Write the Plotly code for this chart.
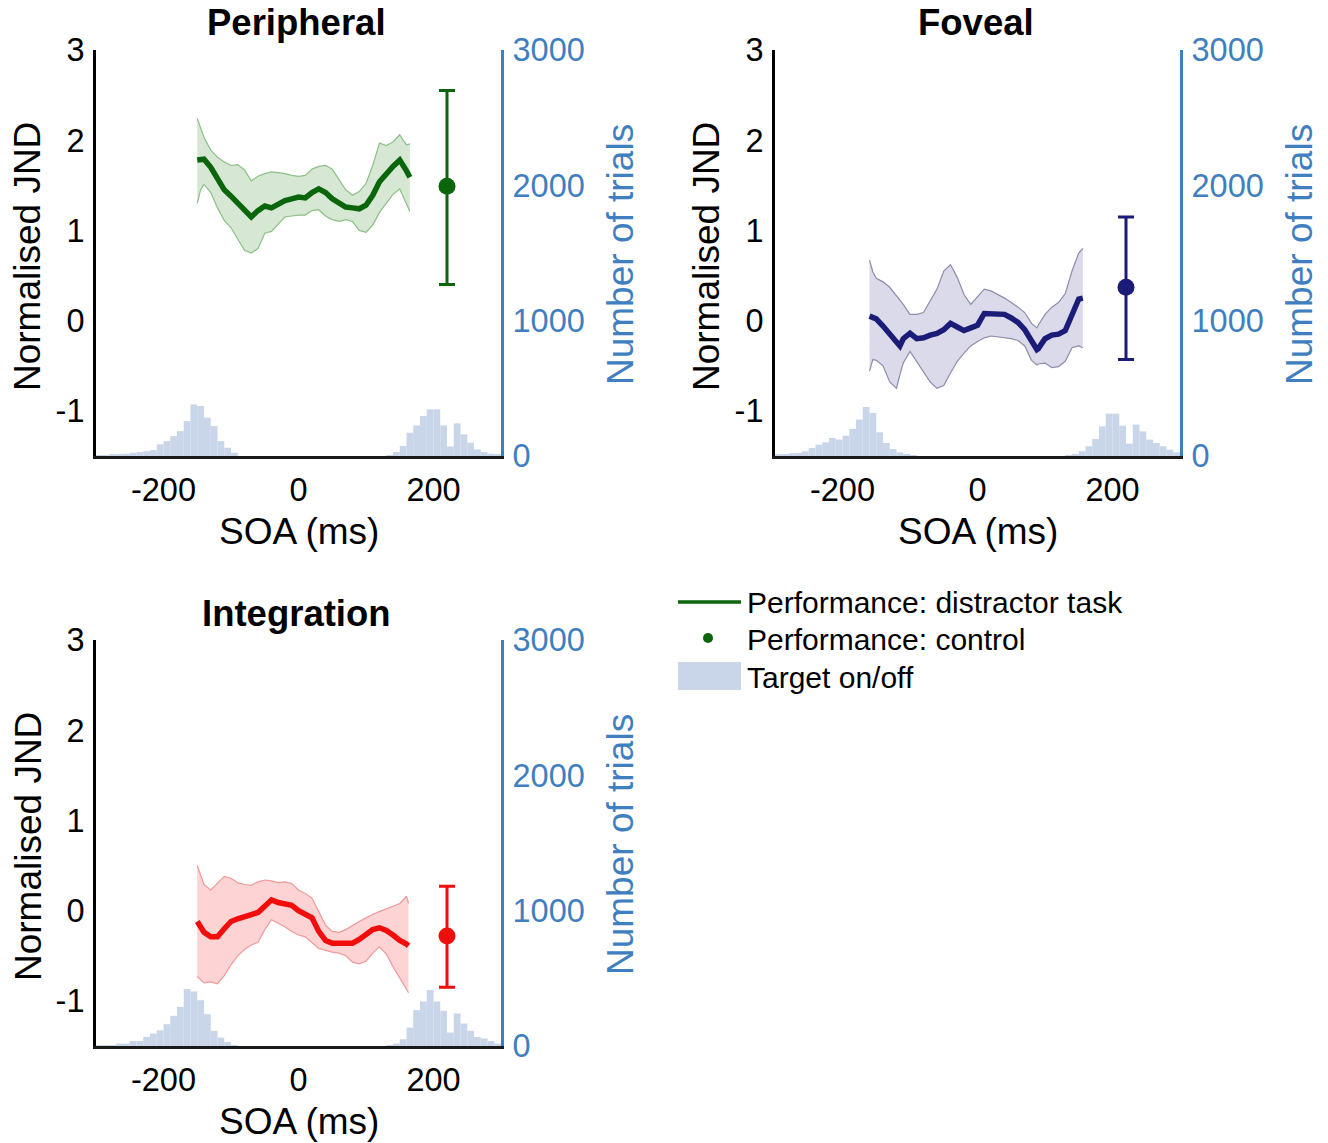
import plotly.graph_objects as go

W, H = 1328, 1143

# ---------------- data ----------------
# Peripheral
per_soa = [-150, -145, -140, -130, -120, -110, -100, -90, -80, -70, -60, -50, -40, -30, -20, -10, 0,
           10, 20, 30, 40, 50, 60, 70, 80, 90, 100, 110, 120, 130, 140, 150, 155, 160, 165]
per_mean = [1.78, 1.79, 1.79, 1.70, 1.56, 1.45, 1.38, 1.31, 1.22, 1.15, 1.22, 1.27, 1.25, 1.29, 1.33, 1.35, 1.37,
            1.36, 1.42, 1.46, 1.42, 1.35, 1.30, 1.26, 1.25, 1.24, 1.28, 1.39, 1.54, 1.63, 1.71, 1.78, 1.73, 1.66, 1.59]
per_upper = [2.24, 2.14, 2.03, 1.89, 1.81, 1.76, 1.72, 1.73, 1.67, 1.55, 1.60, 1.63, 1.65, 1.64, 1.63, 1.61, 1.60,
             1.61, 1.68, 1.71, 1.72, 1.68, 1.57, 1.45, 1.39, 1.43, 1.52, 1.72, 1.97, 1.94, 1.98, 2.06, 2.00, 1.95, 1.96]
per_lower = [1.30, 1.45, 1.51, 1.42, 1.25, 1.11, 1.03, 0.91, 0.78, 0.75, 0.80, 0.97, 0.99, 1.07, 1.15, 1.16, 1.17,
             1.17, 1.22, 1.23, 1.16, 1.12, 1.10, 1.12, 1.10, 1.00, 0.98, 1.06, 1.20, 1.30, 1.40, 1.46, 1.38, 1.30, 1.21]

# Foveal
fov_soa = [-160, -155, -150, -140, -130, -120, -115, -110, -100, -90, -80, -70, -60, -50, -40, -30, -20, -10, 0,
           10, 20, 30, 40, 50, 60, 70, 80, 88, 90, 100, 110, 120, 130, 140, 150, 156]
fov_mean = [0.05, 0.04, 0.02, -0.06, -0.15, -0.24, -0.28, -0.20, -0.14, -0.20, -0.19, -0.16, -0.14, -0.10, -0.03,
            -0.07, -0.11, -0.08, -0.05, 0.08, 0.08, 0.07, 0.07, 0.03, -0.02, -0.10, -0.21, -0.32, -0.31, -0.20,
            -0.16, -0.15, -0.11, 0.05, 0.24, 0.25]
fov_upper = [0.67, 0.54, 0.47, 0.43, 0.37, 0.28, 0.23, 0.18, 0.07, 0.07, 0.09, 0.22, 0.35, 0.55, 0.62, 0.48, 0.29,
             0.18, 0.27, 0.35, 0.33, 0.29, 0.25, 0.20, 0.15, 0.09, -0.03, -0.08, -0.05, 0.07, 0.15, 0.20, 0.30,
             0.55, 0.75, 0.80]
fov_lower = [-0.56, -0.43, -0.44, -0.50, -0.68, -0.75, -0.60, -0.47, -0.34, -0.45, -0.57, -0.68, -0.75, -0.72,
             -0.58, -0.45, -0.36, -0.28, -0.23, -0.19, -0.17, -0.18, -0.19, -0.20, -0.22, -0.28, -0.44, -0.49,
             -0.48, -0.47, -0.52, -0.51, -0.45, -0.30, -0.28, -0.30]

# Integration
int_soa = [-150, -145, -140, -130, -120, -110, -100, -90, -80, -70, -60, -50, -40, -30, -20, -10, 0,
           10, 20, 30, 40, 50, 60, 70, 80, 90, 100, 110, 120, 130, 140, 150, 160, 163]
int_mean = [-0.12, -0.19, -0.24, -0.29, -0.29, -0.20, -0.12, -0.09, -0.07, -0.05, -0.02, 0.05, 0.12, 0.09, 0.08,
            0.06, 0.00, -0.04, -0.08, -0.23, -0.33, -0.36, -0.36, -0.36, -0.36, -0.32, -0.26, -0.21, -0.19,
            -0.22, -0.27, -0.33, -0.37, -0.39]
int_upper = [0.50, 0.39, 0.29, 0.23, 0.30, 0.38, 0.36, 0.31, 0.29, 0.28, 0.32, 0.34, 0.33, 0.31, 0.32, 0.30, 0.23,
             0.19, 0.14, -0.01, -0.16, -0.23, -0.24, -0.21, -0.16, -0.12, -0.08, -0.04, -0.01, 0.02, 0.05, 0.08,
             0.16, 0.08]
int_lower = [-0.73, -0.77, -0.80, -0.79, -0.81, -0.72, -0.60, -0.50, -0.43, -0.38, -0.35, -0.21, -0.10, -0.14,
             -0.18, -0.23, -0.27, -0.29, -0.36, -0.42, -0.44, -0.46, -0.47, -0.50, -0.57, -0.59, -0.56, -0.47,
             -0.40, -0.48, -0.62, -0.75, -0.87, -0.91]

# Control condition (SOA position, mean, upper, lower)
ctrl_soa = 220
per_ctrl = [1.49, 2.55, 0.40]
fov_ctrl = [0.37, 1.15, -0.43]
int_ctrl = [-0.28, 0.27, -0.85]

# Histogram of target on/off (10 ms bins, left edges)
hist_left_edges = [-300, -290, -280, -270, -260, -250, -240, -230, -220, -210, -200,
                   -190, -180, -170, -160, -150, -140, -130, -120, -110, -100]
hist_right_edges = [130, 140, 150, 160, 170, 180, 190, 200, 210, 220, 230, 240, 250, 260, 270, 280, 290]
per_hist_left = [3, 6, 12, 14, 17, 24, 29, 35, 44, 86, 110, 147, 184, 258, 381, 369, 283, 221, 110, 61, 24]
per_hist_right = [5, 29, 74, 172, 226, 295, 345, 345, 226, 70, 241, 160, 98, 49, 29, 17, 10]
fov_hist_left = [8, 10, 20, 22, 35, 59, 84, 101, 133, 121, 150, 200, 269, 362, 318, 175, 96, 52, 27, 15, 5]
fov_hist_right = [5, 15, 35, 72, 126, 219, 313, 313, 224, 91, 232, 182, 121, 96, 72, 47, 27]
int_hist_left = [3, 3, 5, 18, 18, 37, 37, 67, 92, 116, 161, 223, 289, 420, 403, 338, 235, 112, 62, 30, 5]
int_hist_right = [5, 18, 50, 136, 265, 329, 413, 329, 260, 99, 240, 166, 112, 67, 55, 37, 18]

x_tickvals = [-200, 0, 200]
x_ticktext = ["-200", "0", "200"]
jnd_tickvals = [-1, 0, 1, 2, 3]
jnd_ticktext = ["-1", "0", "1", "2", "3"]
trial_tickvals = [0, 1000, 2000, 3000]
trial_ticktext = ["0", "1000", "2000", "3000"]

titles = ["Peripheral", "Foveal", "Integration"]
legend_labels = ["Performance: distractor task", "Performance: control", "Target on/off"]

# ---------------- styles ----------------
FONT = "Liberation Sans, Arial, Helvetica, sans-serif"
HIST_COLOR = "#c9d5e9"
AXIS_BLUE = "#3f7fc0"
panels = [
    dict(soa=per_soa, mean=per_mean, up=per_upper, lo=per_lower, ctrl=per_ctrl,
         hl=per_hist_left, hr=per_hist_right, line="#0b650b", fill="#d6e8d3", edge="#8cbf88",
         xa="x", ya_tr="y", ya_j="y2"),
    dict(soa=fov_soa, mean=fov_mean, up=fov_upper, lo=fov_lower, ctrl=fov_ctrl,
         hl=fov_hist_left, hr=fov_hist_right, line="#1b1b78", fill="#dadaea", edge="#8d8dab",
         xa="x2", ya_tr="y3", ya_j="y4"),
    dict(soa=int_soa, mean=int_mean, up=int_upper, lo=int_lower, ctrl=int_ctrl,
         hl=int_hist_left, hr=int_hist_right, line="#f20d0d", fill="#fdd3d3", edge="#ef9a9a",
         xa="x3", ya_tr="y5", ya_j="y6"),
]

# pixel boxes of each panel: (left, right, top, bottom)
boxes = [(96, 501, 50, 456), (775, 1180, 50, 456), (96, 501, 640, 1046)]


def px(xp):
    return xp / W


def py(yp):
    return 1 - yp / H


fig = go.Figure()

for p in panels:
    # histogram on the trials axis
    fig.add_trace(go.Bar(x=hist_left_edges + hist_right_edges, y=p["hl"] + p["hr"],
                         width=10, offset=0, marker=dict(color=HIST_COLOR, line=dict(width=0)),
                         xaxis=p["xa"], yaxis=p["ya_tr"], showlegend=False, hoverinfo="skip"))
    # confidence band
    fig.add_trace(go.Scatter(x=p["soa"] + p["soa"][::-1], y=p["up"] + p["lo"][::-1],
                             fill="toself", fillcolor=p["fill"], line=dict(width=0),
                             mode="lines", xaxis=p["xa"], yaxis=p["ya_j"], showlegend=False,
                             hoverinfo="skip"))
    for edge in (p["up"], p["lo"]):
        fig.add_trace(go.Scatter(x=p["soa"], y=edge, mode="lines",
                                 line=dict(color=p["edge"], width=1.2),
                                 xaxis=p["xa"], yaxis=p["ya_j"], showlegend=False))
    fig.add_trace(go.Scatter(x=p["soa"], y=p["mean"], mode="lines",
                             line=dict(color=p["line"], width=5.5),
                             xaxis=p["xa"], yaxis=p["ya_j"], showlegend=False))
    m, u, l = p["ctrl"]
    fig.add_trace(go.Scatter(x=[ctrl_soa], y=[m], mode="markers",
                             marker=dict(color=p["line"], size=17),
                             error_y=dict(type="data", symmetric=False, array=[u - m], arrayminus=[m - l],
                                          color=p["line"], thickness=3, width=8),
                             xaxis=p["xa"], yaxis=p["ya_j"], showlegend=False))

layout = dict(
    width=W, height=H, margin=dict(l=0, r=0, t=0, b=0, pad=0, autoexpand=False),
    paper_bgcolor="white", plot_bgcolor="rgba(0,0,0,0)",
    font=dict(family=FONT, color="black"),
    showlegend=False, barmode="overlay",
)

tick_font = dict(family=FONT, size=32.5)
axis_names = [("xaxis", "yaxis", "yaxis2", "x", "y"), ("xaxis2", "yaxis3", "yaxis4", "x2", "y3"),
              ("xaxis3", "yaxis5", "yaxis6", "x3", "y5")]
for (xn, ytr, yj, xref, ytrref), (l, r, t, b) in zip(axis_names, boxes):
    layout[xn] = dict(domain=[px(l), px(r)], range=[-300, 300], anchor=ytrref, automargin=False,
                      tickvals=x_tickvals, ticktext=x_ticktext, ticks="", ticklabelstandoff=3,
                      showline=True, linecolor="#1a1a1a", linewidth=3, showgrid=False, zeroline=False,
                      tickfont=dict(tick_font, color="black"), fixedrange=True)
    layout[ytr] = dict(domain=[py(b), py(t)], range=[0, 3000], anchor=xref, side="right", automargin=False,
                       tickvals=trial_tickvals, ticktext=trial_ticktext, ticks="", ticklabelstandoff=2,
                       showline=True, linecolor=AXIS_BLUE, linewidth=3, showgrid=False, zeroline=False,
                       tickfont=dict(tick_font, color=AXIS_BLUE), fixedrange=True)
    layout[yj] = dict(range=[-1.5, 3], anchor=xref, overlaying=ytrref, side="left", automargin=False,
                      tickvals=jnd_tickvals, ticktext=jnd_ticktext, ticks="", ticklabelstandoff=2,
                      showline=True, linecolor="black", linewidth=3, showgrid=False, zeroline=False,
                      tickfont=dict(tick_font, color="black"), fixedrange=True)

fig.update_layout(**layout)

annotations = []
title_font = dict(family=FONT, size=36.5, color="black")
label_font = dict(family=FONT, size=37, color="black")
for title, (l, r, t, b) in zip(titles, boxes):
    cx = (l + r) / 2
    annotations.append(dict(text="<b>%s</b>" % title, x=px(cx - 2), y=py(t - 27), xref="paper", yref="paper",
                            showarrow=False, font=title_font, xanchor="center", yanchor="middle"))
    annotations.append(dict(text="SOA (ms)", x=px(cx), y=py(b + 75), xref="paper", yref="paper",
                            showarrow=False, font=label_font, xanchor="center", yanchor="middle"))
    annotations.append(dict(text="Normalised JND", x=px(l - 68), y=py((t + b) / 2 + 4), xref="paper",
                            yref="paper", showarrow=False, font=label_font, textangle=-90,
                            xanchor="center", yanchor="middle"))
    annotations.append(dict(text="Number of trials", x=px(r + 119), y=py((t + b) / 2 + 2), xref="paper",
                            yref="paper", showarrow=False, font=dict(label_font, color=AXIS_BLUE),
                            textangle=-90, xanchor="center", yanchor="middle"))

# manual legend
leg_rows = [602, 639, 677]
for lab, yy in zip(legend_labels, leg_rows):
    annotations.append(dict(text=lab, x=px(745), y=py(yy), xref="paper", yref="paper", showarrow=False,
                            font=dict(family=FONT, size=30, color="black"), xanchor="left", yanchor="middle"))

shapes = [
    dict(type="line", xref="paper", yref="paper", x0=px(678), x1=px(741), y0=py(602), y1=py(602),
         line=dict(color=panels[0]["line"], width=3.5)),
    dict(type="circle", xref="paper", yref="paper", x0=px(703), x1=px(713), y0=py(643), y1=py(633),
         fillcolor=panels[0]["line"], line=dict(width=0)),
    dict(type="rect", xref="paper", yref="paper", x0=px(678), x1=px(741), y0=py(690), y1=py(662),
         fillcolor=HIST_COLOR, line=dict(width=0)),
]
fig.update_layout(annotations=annotations, shapes=shapes)

fig.write_html("out.html", config={"displayModeBar": False})
